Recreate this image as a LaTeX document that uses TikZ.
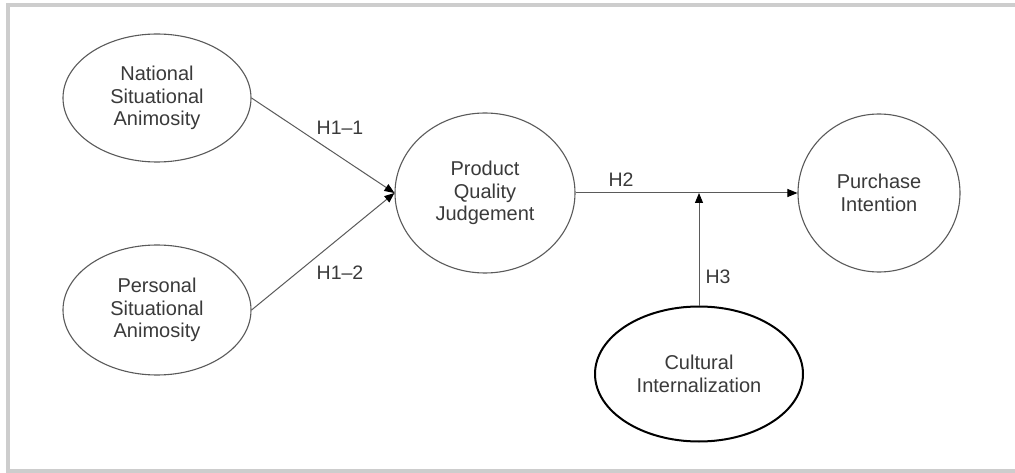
\documentclass[tikz,border=0pt]{standalone}
\usepackage{fontspec}
\setmainfont{Liberation Sans}
\usetikzlibrary{shapes.geometric,arrows.meta}
\definecolor{framegray}{HTML}{CDCDCD}
\definecolor{textgray}{HTML}{3A3A3A}
\definecolor{linegray}{HTML}{5A5A5A}
\tikzset{
  construct/.style={ellipse, draw=linegray, line width=1.1pt, inner sep=0pt,
    align=center, text=textgray, font=\fontsize{20}{22.5}\selectfont},
  hyp/.style={text=textgray, font=\fontsize{19.5}{22}\selectfont, inner sep=0pt},
  path/.style={draw=linegray, line width=1pt,
    -{Triangle[length=10pt,width=8pt,color=black]}}
}
\begin{document}
\begin{tikzpicture}[x=1pt, y=-1pt]
  \useasboundingbox (0, 0) rectangle (1015, 473);
  \fill[white] (0, 0) rectangle (1015, 473);
  \draw[framegray, line width=4pt] (7.5, 5.3) rectangle (1030, 470.5);

  \node[construct, minimum width=188pt, minimum height=128pt] (nsa) at (157, 98)
    {National\\Situational\\Animosity};
  \node[construct, minimum width=188pt, minimum height=130pt] (psa) at (157, 310)
    {Personal\\Situational\\Animosity};
  \node[construct, minimum width=180pt, minimum height=160pt] (pqj) at (485, 193)
    {Product\\Quality\\Judgement};
  \node[construct, minimum width=162pt, minimum height=158pt] (pi) at (879, 193)
    {Purchase\\Intention};
  \node[construct, draw=black, line width=2pt, minimum width=208pt, minimum height=135pt]
    (ci) at (699, 374) {Cultural\\Internalization};

  \draw[path] (nsa.east) -- (pqj.west);
  \draw[path] (psa.east) -- (pqj.west);
  \draw[path] (pqj.east) -- (pi.west);
  \draw[path] (ci.north) -- (ci.north |- pqj.east);

  \node[hyp] (h11) at (340, 128) {H1–1};
  \node[hyp] (h12) at (340, 273) {H1–2};
  \node[hyp] (h2)  at (621, 180) {H2};
  \node[hyp] (h3)  at (718, 277) {H3};
\end{tikzpicture}
\end{document}
